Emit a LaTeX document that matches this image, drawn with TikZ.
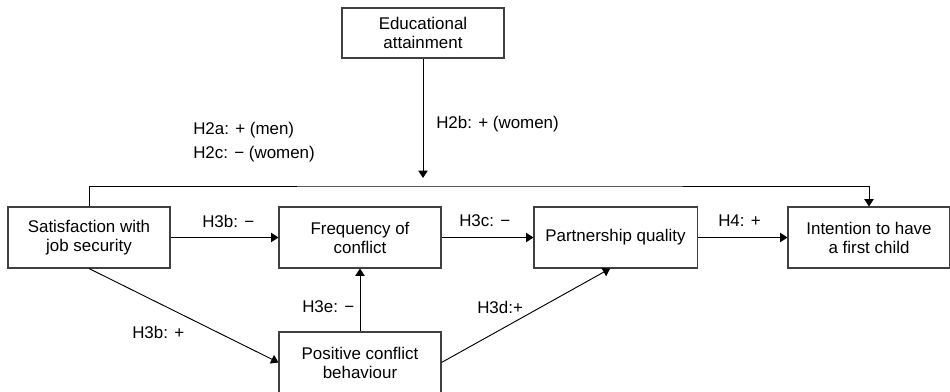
\documentclass[tikz,border=0pt]{standalone}
\usepackage{fontspec}
\setmainfont{Liberation Sans}
\usetikzlibrary{arrows.meta}
\begin{document}
\begin{tikzpicture}[x=0.75pt,y=-0.75pt,
  box/.style={draw=black!75,line width=0.8pt,minimum width=121.5pt,minimum height=45.75pt,align=center,inner sep=1pt,font=\fontsize{12.7}{14.3}\selectfont},
  arr/.style={line width=0.7pt,-{Triangle[length=5.5pt,width=7pt]}},
  lbl/.style={anchor=west,inner sep=0pt,align=left,font=\fontsize{12.7}{18.5}\selectfont}]
\clip (0,0) rectangle (950,392);
\useasboundingbox (0,0) rectangle (950,392);
\node[box,minimum height=37.5pt] (edu) at (423,33) {Educational\\attainment};
\node[box] (sat) at (89,237.5) {Satisfaction with\\job security};
\node[box] (freq) at (360,237.5) {Frequency of\\conflict};
\node[box,minimum width=122.3pt] (part) at (615.5,237.5) {Partnership quality};
\node[box] (intent) at (869,237.5) {Intention to have\\a first child};
\node[box] (pos) at (360,362.5) {Positive conflict\\behaviour};
\coordinate (eduend) at (423,178);
\coordinate (topline) at (500,186);
\draw[arr] (edu.south) -- (eduend);
\draw[arr] (sat.north) |- (topline) -| (intent.north);
\draw[arr] (sat.east) -- (freq.west);
\draw[arr] (freq.east) -- (part.west);
\draw[arr] (part.east) -- (intent.west);
\draw[arr] (pos.north) -- (freq.south);
\draw[arr] (sat.south) -- (pos.west);
\draw[arr] (pos.east) -- ([xshift=-4pt]part.south);
\node[lbl] (l2a) at (193,142) {H2a: + (men)\\H2c: − (women)};
\node[lbl] (l2b) at (436,124) {H2b: + (women)};
\node[lbl] (l3b) at (202,221) {H3b: −};
\node[lbl] (l3c) at (459,221) {H3c: −};
\node[lbl] (l4) at (718,221) {H4: +};
\node[lbl] (l3e) at (302,307) {H3e: −};
\node[lbl] (l3bp) at (132,332) {H3b: +};
\node[lbl] (l3d) at (477,307) {H3d:+};
\end{tikzpicture}
\end{document}
